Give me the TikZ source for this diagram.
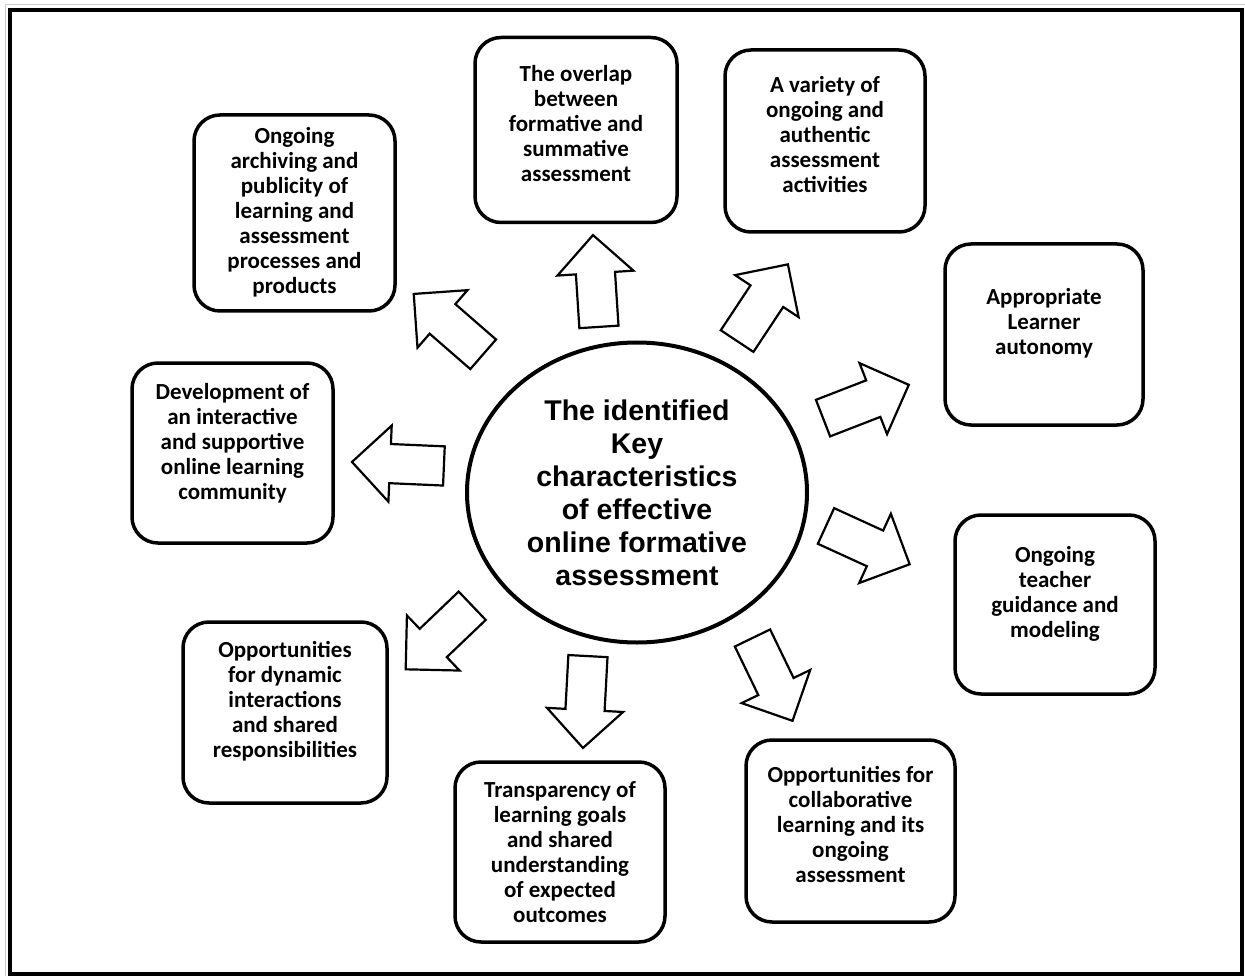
\documentclass[tikz,border=0pt]{standalone}
\usepackage{fontspec}
\setmainfont{Carlito}
\newfontfamily\hubfont{Liberation Sans}
\usetikzlibrary{shapes.geometric,shapes.arrows}
\tikzset{
  keybox/.style={draw,line width=3.5pt,rounded corners=26pt,inner sep=0pt},
  boxtext/.style={align=center,inner sep=0pt,font=\bfseries\fontsize{23}{25}\selectfont},
  bigarrow/.style={draw,line width=2.2pt,fill=white,single arrow,single arrow head extend=18.5pt,
    inner ysep=18.5pt,inner xsep=0pt,minimum width=74pt,minimum height=92pt,anchor=tail},
  hub/.style={draw,ellipse,line width=4pt,inner sep=0pt,minimum width=340pt,minimum height=300pt,
    align=center,font=\hubfont\bfseries\fontsize{28.5}{33}\selectfont}
}
\begin{document}
\begin{tikzpicture}[x=1pt,y=-1pt]
  \fill[white] (0,0) rectangle (1245,976);
  \useasboundingbox (0,0) rectangle (1245,976);
  \draw[gray!40,line width=1pt] (5,976) -- (5,5) -- (1245,5);
  \draw[line width=4pt] (10,10) rectangle (1242,974);

  % centre
  \node[hub] (centre) at (637,492.5) {The identified\\Key\\characteristics\\of effective\\online formative\\assessment};

  % boxes
  \node[keybox,minimum width=201pt,minimum height=196pt] (archive) at (294.5,213) {};
  \node[keybox,minimum width=202pt,minimum height=185pt] (overlap) at (576,130) {};
  \node[keybox,minimum width=200pt,minimum height=182pt] (variety) at (825,141) {};
  \node[keybox,minimum width=198pt,minimum height=181pt] (autonomy) at (1044,334.5) {};
  \node[keybox,minimum width=200pt,minimum height=179pt] (guidance) at (1055,604.5) {};
  \node[keybox,minimum width=209pt,minimum height=182pt] (collab) at (850.5,831) {};
  \node[keybox,minimum width=210pt,minimum height=180pt] (goals) at (560,852) {};
  \node[keybox,minimum width=204pt,minimum height=181pt] (dynamic) at (285,712.5) {};
  \node[keybox,minimum width=201pt,minimum height=180pt] (community) at (232.5,453) {};

  % box texts
  \node[boxtext] at ([yshift=1pt]archive) {Ongoing\\archiving and\\publicity of\\learning and\\assessment\\processes and\\products};
  \node[boxtext] at ([yshift=6pt]overlap) {The overlap\\between\\formative and\\summative\\assessment};
  \node[boxtext] at ([yshift=6pt]variety) {A variety of\\ongoing and\\authentic\\assessment\\activities};
  \node[boxtext] at ([yshift=11pt]autonomy) {Appropriate\\Learner\\autonomy};
  \node[boxtext] at ([yshift=11pt]guidance) {Ongoing\\teacher\\guidance and\\modeling};
  \node[boxtext] at ([yshift=7pt]collab) {Opportunities for\\collaborative\\learning and its\\ongoing\\assessment};
  \node[boxtext] at (goals) {Transparency of\\learning goals\\and shared\\understanding\\of expected\\outcomes};
  \node[boxtext] at ([yshift=11pt]dynamic) {Opportunities\\for dynamic\\interactions\\and shared\\responsibilities};
  \node[boxtext] at ([yshift=10pt]community) {Development of\\an interactive\\and supportive\\online learning\\community};

  % arrows, placed by their tails
  \node[bigarrow,rotate=93.7] (toOverlap) at (599,328) {};
  \node[bigarrow,rotate=56.5] (toVariety) at (736.5,342) {};
  \node[bigarrow,rotate=21.2] (toAutonomy) at (822,418.5) {};
  \node[bigarrow,rotate=-24.6] (toGuidance) at (825,525.5) {};
  \node[bigarrow,rotate=-64.2] (toCollab) at (752,637) {};
  \node[bigarrow,rotate=-93.1] (toGoals) at (588,655) {};
  \node[bigarrow,rotate=223.7] (toDynamic) at (473,605) {};
  \node[bigarrow,rotate=177.5] (toCommunity) at (445,466) {};
  \node[bigarrow,rotate=139] (toArchive) at (484,355) {};
\end{tikzpicture}
\end{document}
